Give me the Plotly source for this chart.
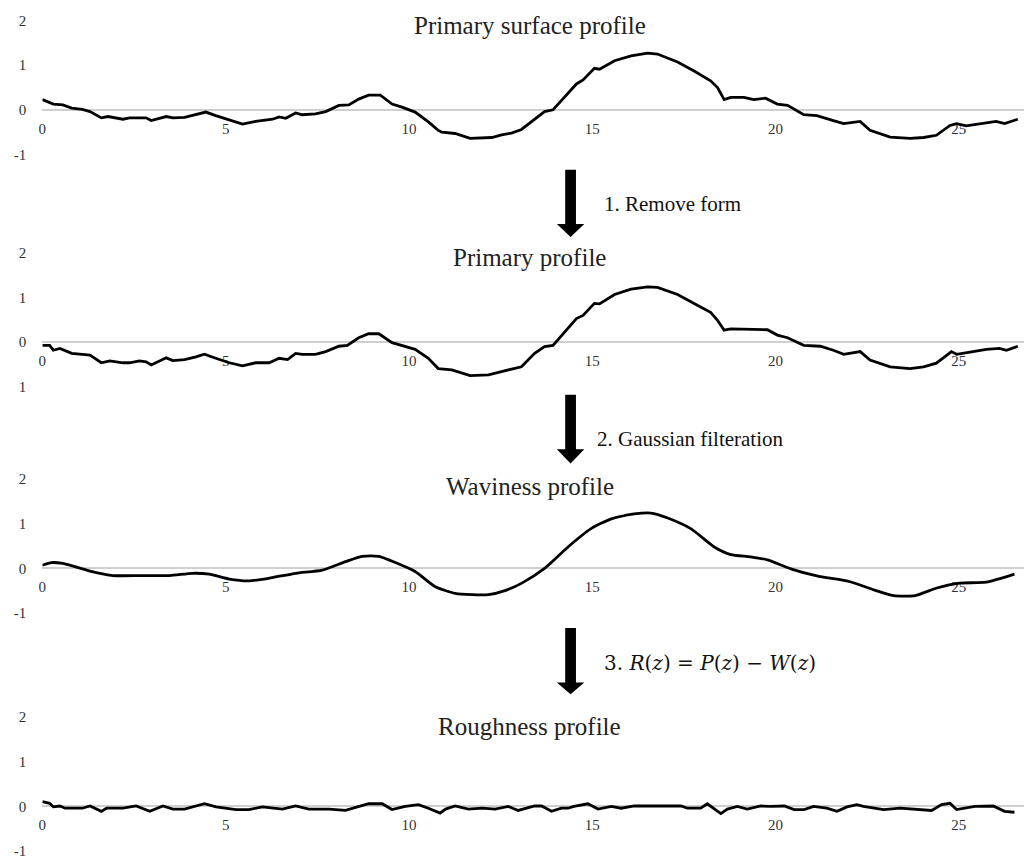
import plotly.graph_objects as go

# ---------------- data ----------------
surface_x = [0, 0.3, 0.56, 0.8, 1.09, 1.3, 1.61, 1.79, 2.2, 2.38, 2.83, 2.97, 3.38, 3.56, 3.88,
             4.19, 4.46, 4.73, 5.28, 5.46, 5.82, 6.28, 6.46, 6.64, 6.91, 7.09, 7.45, 7.73, 8.09, 8.36,
             8.63, 8.9, 9.22, 9.54, 9.81, 10.17, 10.53, 10.8, 10.9, 11.26, 11.67, 12.26, 12.53, 12.8, 13.07,
             13.43, 13.7, 13.93, 14.25, 14.57, 14.75, 15.06, 15.2, 15.61, 16.06, 16.51, 16.78, 17.33, 17.78, 18.23,
             18.42, 18.6, 18.78, 19.14, 19.41, 19.73, 20.05, 20.33, 20.77, 21.13, 21.58, 21.86, 22.31, 22.58, 23.13,
             23.67, 24.04, 24.39, 24.76, 24.94, 25.2, 25.57, 26.02, 26.25, 26.61]
surface_y = [0.23, 0.13, 0.11, 0.04, 0.01, -0.04, -0.18, -0.15, -0.21, -0.18, -0.18, -0.24, -0.15, -0.18, -0.17,
             -0.11, -0.05, -0.13, -0.27, -0.32, -0.26, -0.21, -0.16, -0.19, -0.07, -0.11, -0.09, -0.04, 0.10, 0.11,
             0.24, 0.33, 0.33, 0.13, 0.06, -0.05, -0.27, -0.46, -0.50, -0.53, -0.64, -0.62, -0.56, -0.52, -0.44,
             -0.20, -0.04, 0.0, 0.28, 0.58, 0.67, 0.93, 0.91, 1.10, 1.21, 1.27, 1.25, 1.07, 0.87, 0.65,
             0.50, 0.23, 0.28, 0.28, 0.23, 0.26, 0.13, 0.10, -0.11, -0.13, -0.24, -0.31, -0.26, -0.46, -0.61,
             -0.64, -0.62, -0.57, -0.35, -0.31, -0.36, -0.31, -0.26, -0.31, -0.21]

primary_x = [0, 0.2, 0.3, 0.48, 0.8, 1.09, 1.3, 1.61, 1.84, 2.2, 2.38, 2.65, 2.83, 2.97, 3.38,
             3.56, 3.88, 4.19, 4.42, 4.73, 5.1, 5.46, 5.82, 6.19, 6.46, 6.69, 6.91, 7.09, 7.45, 7.73,
             8.09, 8.32, 8.63, 8.9, 9.18, 9.54, 9.81, 10.17, 10.53, 10.8, 11.17, 11.67, 12.17, 12.53, 13.07,
             13.43, 13.7, 13.93, 14.25, 14.57, 14.75, 15.06, 15.2, 15.61, 16.06, 16.51, 16.78, 17.33, 17.78, 18.23,
             18.42, 18.6, 18.78, 19.78, 20.05, 20.33, 20.77, 21.22, 21.58, 21.86, 22.31, 22.58, 23.13, 23.67, 24.04,
             24.39, 24.8, 24.94, 25.39, 25.75, 26.11, 26.3, 26.61]
primary_y = [-0.07, -0.07, -0.18, -0.14, -0.25, -0.27, -0.29, -0.46, -0.42, -0.46, -0.46, -0.42, -0.44, -0.51, -0.35,
             -0.41, -0.39, -0.33, -0.27, -0.36, -0.46, -0.53, -0.46, -0.46, -0.36, -0.39, -0.25, -0.27, -0.27, -0.21,
             -0.09, -0.07, 0.10, 0.19, 0.19, -0.01, -0.07, -0.16, -0.36, -0.59, -0.62, -0.75, -0.73, -0.66, -0.55,
             -0.25, -0.10, -0.07, 0.23, 0.53, 0.60, 0.87, 0.86, 1.07, 1.19, 1.24, 1.23, 1.07, 0.87, 0.67,
             0.49, 0.27, 0.30, 0.28, 0.16, 0.10, -0.07, -0.09, -0.18, -0.27, -0.21, -0.40, -0.55, -0.59, -0.55,
             -0.47, -0.21, -0.27, -0.21, -0.16, -0.14, -0.18, -0.09]

waviness_x = [0, 0.25, 0.56, 1.3, 1.93, 2.74, 3.47, 4.1, 4.55, 5.1, 5.64, 6.19, 6.91, 7.64, 8.27,
              8.72, 9.18, 9.63, 10.17, 10.72, 11.26, 11.72, 12.17, 12.62, 13.08, 13.7, 14.34, 14.97, 15.52, 16.15,
              16.6, 17.06, 17.69, 18.33, 18.78, 19.32, 19.78, 20.42, 21.13, 22.04, 22.68, 23.22, 23.81, 24.4, 25.03,
              25.75, 26.52]
waviness_y = [0.07, 0.13, 0.11, -0.06, -0.16, -0.16, -0.16, -0.11, -0.13, -0.24, -0.28, -0.22, -0.11, -0.04, 0.15,
              0.27, 0.27, 0.13, -0.07, -0.41, -0.56, -0.59, -0.59, -0.50, -0.33, 0.0, 0.48, 0.89, 1.11, 1.22,
              1.24, 1.13, 0.89, 0.48, 0.31, 0.26, 0.19, -0.01, -0.17, -0.30, -0.48, -0.61, -0.61, -0.44, -0.33,
              -0.31, -0.13]

roughness_x = [0, 0.2, 0.3, 0.48, 0.62, 1.09, 1.3, 1.61, 1.75, 2.2, 2.56, 2.93, 3.29, 3.56, 3.88,
               4.19, 4.42, 4.74, 5.28, 5.64, 6.0, 6.55, 6.91, 7.27, 7.82, 8.27, 8.72, 8.9, 9.27, 9.54,
               9.9, 10.26, 10.53, 10.85, 11.0, 11.26, 11.62, 11.99, 12.35, 12.71, 12.98, 13.43, 13.62, 13.89, 14.16,
               14.34, 14.5, 14.88, 15.16, 15.52, 15.79, 16.15, 17.42, 17.6, 17.96, 18.14, 18.51, 18.69, 18.96, 19.23,
               19.6, 19.86, 20.24, 20.51, 20.78, 21.04, 21.4, 21.68, 21.95, 22.22, 22.4, 22.68, 22.95, 23.4, 23.9,
               24.26, 24.53, 24.76, 24.94, 25.44, 25.94, 26.25, 26.52]
roughness_y = [0.11, 0.07, -0.01, 0.01, -0.04, -0.04, 0.01, -0.11, -0.04, -0.04, 0.01, -0.11, 0.01, -0.06, -0.06,
               0.0, 0.06, -0.01, -0.07, -0.07, -0.01, -0.06, 0.01, -0.06, -0.06, -0.09, 0.01, 0.06, 0.06, -0.07,
               0.0, 0.04, -0.04, -0.15, -0.06, 0.01, -0.06, -0.04, -0.06, 0.0, -0.09, 0.01, 0.01, -0.11, -0.04,
               -0.04, 0.0, 0.06, -0.06, 0.0, -0.04, 0.01, 0.01, -0.04, -0.04, 0.06, -0.16, -0.06, 0.0, -0.06,
               0.01, 0.0, 0.01, -0.07, -0.07, 0.0, -0.04, -0.11, -0.01, 0.04, 0.0, -0.04, -0.07, -0.04, -0.06,
               -0.09, 0.04, 0.07, -0.07, 0.0, 0.01, -0.11, -0.13]

panel_titles = ["Primary surface profile", "Primary profile", "Waviness profile", "Roughness profile"]
x_tick_vals = [0, 5, 10, 15, 20, 25]
x_tick_text = ["0", "5", "10", "15", "20", "25"]
y_tick_vals = [-1, 0, 1, 2]
y_tick_text = [
    ["-1", "0", "1", "2"],
    ["1", "0", "1", "2"],
    ["-1", "0", "1", "2"],
    ["-1", "0", "1", "2"],
]
step_labels = [
    "1. Remove form",
    "2. Gaussian filteration",
    "3. <i>R</i>(<i>z</i>) = <i>P</i>(<i>z</i>) − <i>W</i>(<i>z</i>)",
]

series = [(surface_x, surface_y, "linear"), (primary_x, primary_y, "linear"),
          (waviness_x, waviness_y, "spline"), (roughness_x, roughness_y, "linear")]

# ---------------- layout geometry (pixels) ----------------
W, H = 1024, 864
FONT = "Liberation Serif, Times New Roman, serif"
MATH_FONT = "DejaVu Serif, Liberation Serif, serif"
zero_px = [107.7, 342.0, 570.0, 810.0]   # pixel row of the zero line in each panel
ppu_y = 45.0                              # pixels per y unit
x0_px = 38.5                              # pixel column of x = 0
ppu_x = 36.8                              # pixels per x unit
y_lo, y_hi = -1.1, 2.1


def fx(p):
    return p / W


def fy(p):
    return 1 - p / H


fig = go.Figure()
layout = dict(
    width=W, height=H, margin=dict(l=0, r=0, t=0, b=0),
    paper_bgcolor="white", plot_bgcolor="rgba(0,0,0,0)",
    showlegend=False, font=dict(family=FONT, color="#333333"),
)

for i, (xs, ys, shape) in enumerate(series):
    n = i + 1
    sfx = "" if n == 1 else str(n)
    fig.add_trace(go.Scatter(
        x=xs, y=ys, mode="lines", xaxis="x" + sfx, yaxis="y" + sfx,
        line=dict(color="black", width=2.8, shape=shape, smoothing=0.6 if shape == "spline" else None),
        hoverinfo="skip",
    ))
    z = zero_px[i]
    top = z - y_hi * ppu_y
    bot = z - y_lo * ppu_y
    layout["xaxis" + sfx] = dict(
        domain=[fx(x0_px), 1], range=[0, (W - x0_px) / ppu_x],
        anchor="free", position=fy(z),
        tickvals=x_tick_vals, ticktext=x_tick_text,
        showgrid=False, zeroline=False, showline=False,
        ticks="outside", ticklen=5, tickcolor="rgba(0,0,0,0)",
        tickfont=dict(family=FONT, size=15, color="#333333"),
        layer="below traces", fixedrange=True,
    )
    layout["yaxis" + sfx] = dict(
        domain=[fy(bot), fy(top)], range=[y_lo, y_hi], anchor="x" + sfx,
        tickvals=y_tick_vals, ticktext=y_tick_text[i],
        showgrid=False, zeroline=True, zerolinecolor="#cfcfcf", zerolinewidth=1.5,
        showline=False, ticks="outside", ticklen=12, tickcolor="rgba(0,0,0,0)",
        tickfont=dict(family=FONT, size=15, color="#333333"),
        layer="below traces", fixedrange=True,
    )

annotations = []
title_y_px = [23, 257, 487, 729]
for t, yp in zip(panel_titles, title_y_px):
    annotations.append(dict(
        text=t, x=fx(528), y=fy(yp), xref="paper", yref="paper",
        xanchor="center", yanchor="middle", showarrow=False,
        font=dict(family=FONT, size=25, color="#222222"),
    ))

label_pos = [(600, 203), (593, 440), (600, 665)]
label_fonts = [(FONT, 21), (FONT, 21), (MATH_FONT, 20)]
for t, (xp, yp), (ff, fs) in zip(step_labels, label_pos, label_fonts):
    annotations.append(dict(
        text=t, x=fx(xp), y=fy(yp), xref="paper", yref="paper",
        xanchor="left", yanchor="middle", showarrow=False,
        font=dict(family=ff, size=fs, color="#111111"),
    ))

# block arrows between panels
shapes = []
arrow_geo = [(168, 222.7, 236), (395, 450, 464.3), (630, 685, 697)]
cx, shaft_hw, head_hw = 568.8, 5.4, 13.8
for top, hs, tip in arrow_geo:
    pts = [(cx - shaft_hw, top), (cx + shaft_hw, top), (cx + shaft_hw, hs), (cx + head_hw, hs),
           (cx, tip), (cx - head_hw, hs), (cx - shaft_hw, hs)]
    path = "M " + " L ".join(f"{fx(a):.5f},{fy(b):.5f}" for a, b in pts) + " Z"
    shapes.append(dict(type="path", path=path, xref="paper", yref="paper",
                       fillcolor="black", line=dict(color="black", width=0)))

layout["annotations"] = annotations
layout["shapes"] = shapes
fig.update_layout(**layout)

fig.write_html("out.html", config={"displayModeBar": False},
               post_script="document.body.style.margin='0';document.body.style.overflow='hidden';")
